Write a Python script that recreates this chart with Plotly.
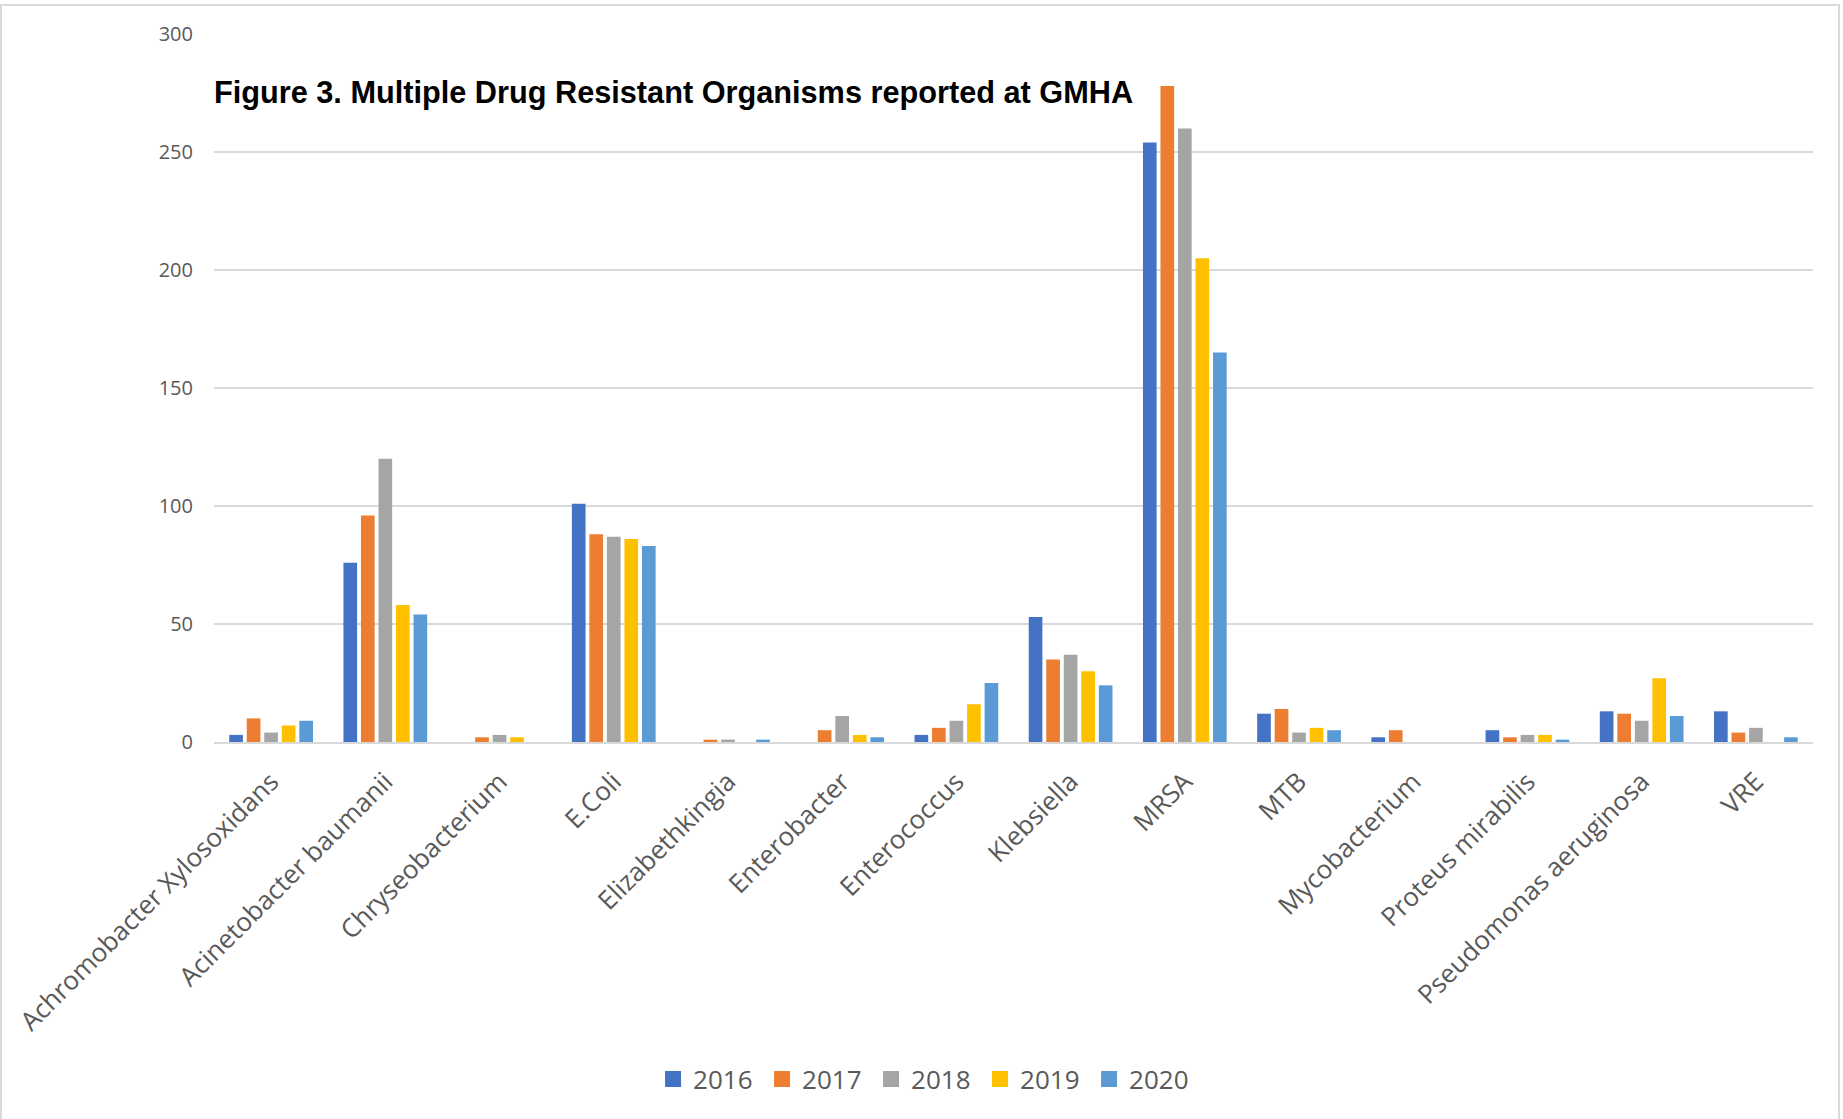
import plotly.graph_objects as go

# Organisms on the category axis
organisms = [
    "Achromobacter Xylosoxidans", "Acinetobacter baumanii", "Chryseobacterium",
    "E.Coli", "Elizabethkingia", "Enterobacter", "Enterococcus", "Klebsiella",
    "MRSA", "MTB", "Mycobacterium", "Proteus mirabilis",
    "Pseudomonas aeruginosa", "VRE",
]

# Reported counts per year
counts_2016 = [3, 76, 0, 101, 0, 0, 3, 53, 254, 12, 2, 5, 13, 13]
counts_2017 = [10, 96, 2, 88, 1, 5, 6, 35, 278, 14, 5, 2, 12, 4]
counts_2018 = [4, 120, 3, 87, 1, 11, 9, 37, 260, 4, 0, 3, 9, 6]
counts_2019 = [7, 58, 2, 86, 0, 3, 16, 30, 205, 6, 0, 3, 27, 0]
counts_2020 = [9, 54, 0, 83, 1, 2, 25, 24, 165, 5, 0, 1, 11, 2]

years = ["2016", "2017", "2018", "2019", "2020"]
series = [counts_2016, counts_2017, counts_2018, counts_2019, counts_2020]
colors = ["#4472C4", "#ED7D31", "#A5A5A5", "#FFC000", "#5B9BD5"]

y_ticks = [0, 50, 100, 150, 200, 250, 300]

W, H = 1843, 1119
L, R, T, B = 214, 30, 34, 377
plot_w = W - L - R
plot_h = H - T - B
bottom_px = T + plot_h

fig = go.Figure()

for year, vals, col in zip(years, series, colors):
    fig.add_trace(go.Bar(
        x=organisms, y=vals, name=year, legendgroup=year,
        marker=dict(color=col, line=dict(width=0)),
        showlegend=False,
    ))

# Square legend keys
for year, col in zip(years, colors):
    fig.add_trace(go.Scatter(
        x=[None], y=[None], mode="markers", name=year, legendgroup=year,
        marker=dict(symbol="square", size=16, color=col),
        showlegend=True,
    ))

fig.update_layout(
    width=W, height=H,
    margin=dict(l=L, r=R, t=T, b=B, autoexpand=False),
    paper_bgcolor="white", plot_bgcolor="white",
    barmode="group", bargap=0.233, bargroupgap=0.22,
    font=dict(family="Open Sans, sans-serif", color="#595959"),
    title=dict(
        text="<b>Figure 3. Multiple Drug Resistant Organisms reported at GMHA</b>",
        font=dict(family="Liberation Sans Narrow, Arial Narrow, sans-serif", size=30.7, color="#000000"),
        xref="paper", x=0, xanchor="left",
        yref="container", y=1 - 92 / H, yanchor="middle",
    ),
    xaxis=dict(
        type="category",
        tickangle=-45,
        tickfont=dict(size=26, color="#595959"),
        showgrid=False,
        showline=True, linecolor="#D9D9D9", linewidth=2,
        ticks="", ticklabelstandoff=12,
        fixedrange=True,
    ),
    yaxis=dict(
        range=[0, 300],
        tickvals=y_ticks,
        tickfont=dict(size=20, color="#595959"),
        showgrid=True, gridcolor="#D9D9D9", gridwidth=1.5,
        zeroline=False, showline=False,
        ticks="", ticklabelstandoff=20,
        fixedrange=True,
    ),
    legend=dict(
        orientation="h",
        x=0.445, xanchor="center",
        y=(bottom_px - 1079) / plot_h, yanchor="middle",
        font=dict(size=26, color="#595959"),
        itemsizing="trace",
        entrywidth=64, entrywidthmode="pixels",
        bgcolor="rgba(0,0,0,0)",
    ),
    # Thin frame around the whole chart
    shapes=[dict(
        type="rect", xref="paper", yref="paper",
        x0=(1 - L) / plot_w, x1=(1839 - L) / plot_w,
        y0=(bottom_px - (H + 10)) / plot_h, y1=(bottom_px - 5) / plot_h,
        line=dict(color="#D9D9D9", width=2), fillcolor="rgba(0,0,0,0)", layer="below",
    )],
)

fig.write_html("out.html")
